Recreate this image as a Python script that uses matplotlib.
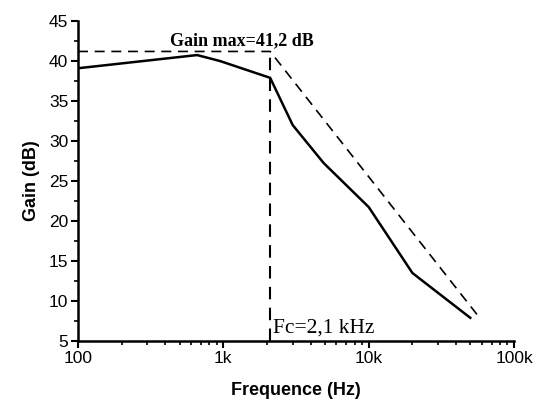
import numpy as np
import matplotlib.pyplot as plt
from matplotlib.ticker import FixedLocator, FuncFormatter, LogLocator, MultipleLocator

# measured gain curve
freq_hz = [100, 660, 950, 2100, 3000, 4900, 10000, 20000, 50000]
gain_db = [39.1, 40.75, 40.0, 37.9, 32.0, 27.25, 21.75, 13.5, 7.9]

# asymptote (dashed)
asym_freq = [100, 2100, 56000]
asym_gain = [41.2, 41.2, 8.25]

fc_hz = 2100
gain_max = 41.2
tick_names = {100: '100', 1000: '1k', 10000: '10k', 100000: '100k'}

plt.rcParams['font.family'] = ['Liberation Sans', 'DejaVu Sans']
serif = ['Liberation Serif', 'DejaVu Serif']

fig = plt.figure(figsize=(5.36, 4.05), dpi=100)
ax = fig.add_axes([0.1455, 0.158, 0.8135, 0.79])

ax.plot(freq_hz, gain_db, color='black', lw=1.8, solid_joinstyle='miter')
ax.plot(asym_freq, asym_gain, color='black', lw=1.2, ls=(0, (6, 4)))
ax.plot([fc_hz, fc_hz], [5, gain_max], color='black', lw=1.5, ls=(0, (6, 4)))

ax.set_xscale('log')
ax.set_xlim(100, 100000)
ax.set_ylim(5, 45)

ax.xaxis.set_major_locator(FixedLocator(list(tick_names)))
ax.xaxis.set_major_formatter(FuncFormatter(lambda v, p: tick_names.get(int(round(v)), '')))
ax.xaxis.set_minor_locator(LogLocator(base=10, subs=np.arange(2, 10)))
ax.xaxis.set_minor_formatter(FuncFormatter(lambda v, p: ''))
ax.yaxis.set_major_locator(MultipleLocator(5))
ax.yaxis.set_minor_locator(MultipleLocator(2.5))

for s in ['top', 'right']:
    ax.spines[s].set_visible(False)
for s in ['left', 'bottom']:
    ax.spines[s].set_linewidth(1.8)

ax.tick_params(which='major', direction='out', length=5, width=1.5, labelsize=12.5, pad=2)
ax.tick_params(which='minor', direction='out', length=3, width=1.2)

ax.set_xlabel('Frequence (Hz)', fontsize=13, fontweight='bold', labelpad=12)
ax.set_ylabel('Gain (dB)', fontsize=13, fontweight='bold', labelpad=6)

ax.text(1350, 42.5, 'Gain max=41,2 dB', family=serif, fontsize=13,
        fontweight='bold', ha='center', va='center')
ax.text(2200, 6.6, 'Fc=2,1 kHz', family=serif, fontsize=15.5, ha='left', va='center')

fig.savefig('out.png', dpi=100)
